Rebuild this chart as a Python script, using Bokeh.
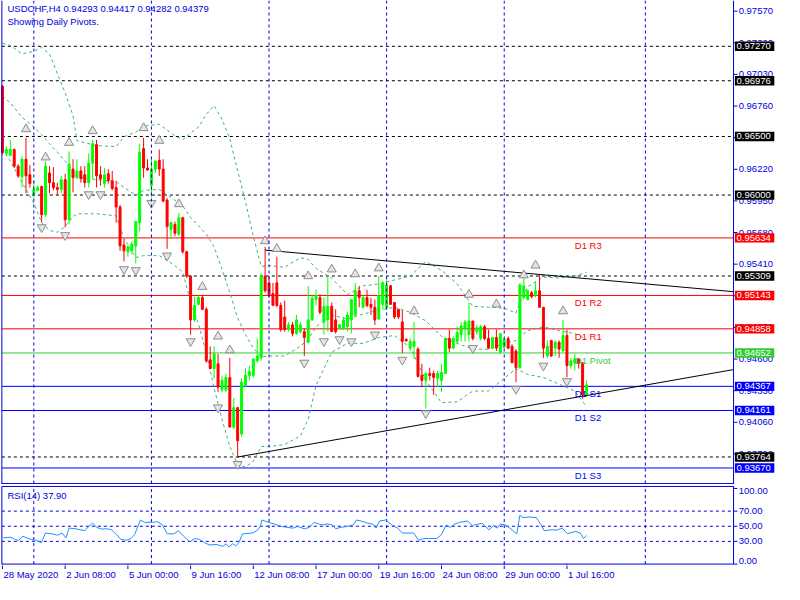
from bokeh.plotting import figure
from bokeh.models import Range1d, Span, ColumnDataSource
from bokeh.layouts import column
from bokeh.embed import file_html
from bokeh.resources import INLINE
from bokeh.core.properties import value

# ---------------- data ----------------
opens = [0.96929,0.96356,0.96339,0.96389,0.96247,0.96156,0.96306,0.96173,0.96006,0.96040,
0.96073,0.95832,0.96189,0.96106,0.96064,0.96048,0.96131,0.95790,0.96222,0.96148,
0.96206,0.96173,0.96106,0.96272,0.96430,0.96173,0.96098,0.96181,0.96123,0.96064,
0.95898,0.95574,0.95516,0.95524,0.95566,0.95765,0.96397,0.96231,0.96081,0.96222,
0.96297,0.96222,0.95957,0.95707,0.95749,0.95665,0.95807,0.95516,0.95308,0.94934,
0.95067,0.95125,0.95025,0.94593,0.94518,0.94560,0.94335,0.94335,0.94443,0.94019,
0.94185,0.93961,0.94377,0.94460,0.94460,0.94585,0.94610,0.95308,0.95250,0.95158,
0.95250,0.95058,0.94959,0.94851,0.94892,0.94817,0.94834,0.94834,0.94743,0.94934,
0.95108,0.95125,0.94917,0.94934,0.95050,0.94934,0.94859,0.94859,0.94876,0.94934,
0.94976,0.95183,0.95042,0.95125,0.95067,0.95042,0.94942,0.95067,0.95042,0.95225,
0.95083,0.95025,0.94917,0.94768,0.94693,0.94709,0.94685,0.94460,0.94418,0.94477,
0.94477,0.94435,0.94418,0.94477,0.94776,0.94693,0.94751,0.94809,0.94859,0.94809,
0.94925,0.94834,0.94776,0.94876,0.94776,0.94693,0.94784,0.94660,0.94701,0.94776,
0.94709,0.94668,0.94526,0.95125,0.95108,0.95167,0.95142,0.95183,0.95042,0.94626,
0.94759,0.94693,0.94743,0.94668,0.94801,0.94543,0.94568,0.94601,0.94568,0.94293]
highs = [0.96938,0.96414,0.96472,0.96397,0.96264,0.96331,0.96489,0.96256,0.96123,0.96081,
0.96081,0.96289,0.96247,0.96239,0.96106,0.96164,0.96181,0.96372,0.96306,0.96306,
0.96247,0.96247,0.96356,0.96472,0.96472,0.96247,0.96231,0.96222,0.96206,0.96123,
0.95915,0.95624,0.95566,0.95607,0.95774,0.96439,0.96489,0.96306,0.96306,0.96297,
0.96389,0.96306,0.95973,0.95774,0.95774,0.95848,0.95815,0.95524,0.95316,0.95133,
0.95142,0.95142,0.95042,0.94709,0.94709,0.94643,0.94460,0.94476,0.94610,0.94269,
0.94185,0.94435,0.94526,0.94543,0.94601,0.94776,0.95333,0.95557,0.95308,0.95250,
0.95474,0.95083,0.95100,0.94917,0.94917,0.94976,0.94917,0.94859,0.95225,0.95150,
0.95192,0.95150,0.95125,0.95308,0.95083,0.95025,0.94901,0.94959,0.95000,0.95108,
0.95250,0.95225,0.95150,0.95192,0.95125,0.95108,0.95308,0.95266,0.95275,0.95233,
0.95083,0.95025,0.95017,0.94776,0.94776,0.94917,0.94701,0.94560,0.94485,0.94526,
0.94501,0.94501,0.94560,0.94776,0.94851,0.94793,0.94876,0.94917,0.94934,0.95083,
0.94925,0.94892,0.94892,0.94892,0.94851,0.94784,0.94851,0.94817,0.94784,0.94793,
0.94726,0.94685,0.95250,0.95316,0.95192,0.95183,0.95266,0.95316,0.95042,0.94759,
0.94759,0.94759,0.94759,0.94934,0.94851,0.94610,0.94643,0.94610,0.94568,0.94417]
lows = [0.96347,0.96331,0.96331,0.96231,0.96148,0.96064,0.96015,0.96064,0.95981,0.96031,
0.95765,0.95815,0.96015,0.96040,0.95998,0.96015,0.95724,0.95749,0.96023,0.96139,
0.96106,0.96064,0.96064,0.96139,0.96064,0.96081,0.96064,0.96098,0.96040,0.95765,
0.95524,0.95433,0.95474,0.95499,0.95416,0.95690,0.96148,0.96206,0.95981,0.96189,
0.96164,0.95940,0.95541,0.95624,0.95649,0.95649,0.95499,0.95291,0.94809,0.94917,
0.95058,0.95017,0.94568,0.94518,0.94435,0.94319,0.94319,0.94319,0.94019,0.94003,
0.93764,0.93937,0.94360,0.94418,0.94443,0.94568,0.94585,0.95167,0.95125,0.95058,
0.95042,0.94834,0.94834,0.94834,0.94793,0.94809,0.94817,0.94626,0.94734,0.94925,
0.95058,0.94984,0.94809,0.94834,0.94834,0.94817,0.94851,0.94851,0.94834,0.94817,
0.94959,0.95042,0.95033,0.95042,0.94976,0.94892,0.94934,0.95025,0.95025,0.95067,
0.94942,0.94942,0.94652,0.94751,0.94668,0.94601,0.94443,0.94360,0.94177,0.94418,
0.94294,0.94360,0.94319,0.94477,0.94660,0.94685,0.94734,0.94751,0.94751,0.94751,
0.94759,0.94809,0.94759,0.94759,0.94685,0.94685,0.94668,0.94643,0.94693,0.94685,
0.94568,0.94402,0.94518,0.95108,0.95100,0.95117,0.95125,0.95042,0.94610,0.94610,
0.94618,0.94626,0.94610,0.94668,0.94443,0.94518,0.94501,0.94518,0.94261,0.94282]
closes = [0.96364,0.96389,0.96389,0.96247,0.96164,0.96306,0.96164,0.96098,0.96048,0.96064,
0.95832,0.96247,0.96106,0.96064,0.96048,0.96131,0.95790,0.96264,0.96148,0.96206,
0.96139,0.96106,0.96272,0.96439,0.96164,0.96139,0.96173,0.96123,0.96056,0.95898,
0.95566,0.95524,0.95558,0.95582,0.95774,0.96364,0.96231,0.96214,0.96222,0.96289,
0.96222,0.95948,0.95732,0.95765,0.95674,0.95807,0.95516,0.95308,0.94934,0.95058,
0.95125,0.95025,0.94585,0.94518,0.94643,0.94360,0.94418,0.94443,0.94019,0.94185,
0.93903,0.94402,0.94460,0.94493,0.94601,0.94626,0.95308,0.95183,0.95150,0.95058,
0.95058,0.94851,0.94851,0.94892,0.94817,0.94934,0.94892,0.94784,0.94934,0.95117,
0.95142,0.95000,0.95050,0.95050,0.94834,0.94834,0.94892,0.94934,0.94976,0.95108,
0.95183,0.95125,0.95125,0.95058,0.95042,0.94934,0.95142,0.95250,0.95233,0.95067,
0.94959,0.94959,0.94751,0.94755,0.94751,0.94751,0.94452,0.94418,0.94477,0.94460,
0.94443,0.94477,0.94485,0.94776,0.94693,0.94776,0.94826,0.94884,0.94917,0.94925,
0.94776,0.94868,0.94876,0.94776,0.94693,0.94784,0.94693,0.94817,0.94768,0.94693,
0.94568,0.94526,0.95233,0.95225,0.95183,0.95133,0.95183,0.95042,0.94693,0.94709,
0.94626,0.94743,0.94685,0.94801,0.94543,0.94585,0.94601,0.94560,0.94294,0.94379]

# Bollinger bands (read at sample bars)
bb_x = [0,2,5,8,10,12,14,16,18,19,24,29,31,34,36,40,44,46,48,50,52,54,56,58,60,62,64,66,68,72,
        76,78,80,84,88,92,96,100,104,108,112,116,120,124,128,131,132,134,138,142,146,149]
bb_upper = [0.97295,0.97278,0.97204,0.97228,0.97262,0.97204,0.97037,0.96871,0.96680,0.96464,
            0.96422,0.96414,0.96497,0.96538,0.96588,0.96605,0.96505,0.96472,0.96530,0.96580,
            0.96688,0.96763,0.96647,0.96480,0.96206,0.95940,0.95649,0.95391,0.95399,0.95383,
            0.95466,0.95449,0.95374,0.95291,0.95150,0.95225,0.95241,0.95275,0.95308,0.95433,
            0.95358,0.95241,0.95050,0.95042,0.95034,0.94992,0.95084,0.95217,0.95300,0.95291,
            0.95308,0.95341]
bb_middle = [0.96846,0.96788,0.96663,0.96580,0.96514,0.96439,0.96364,0.96289,0.96206,0.96156,
             0.96131,0.96114,0.96065,0.95998,0.96040,0.96048,0.95956,0.95907,0.95807,0.95740,
             0.95665,0.95557,0.95366,0.95167,0.94950,0.94809,0.94693,0.94618,0.94626,0.94626,
             0.94709,0.94768,0.94876,0.94975,0.94942,0.94984,0.95017,0.95042,0.95000,0.94926,
             0.94792,0.94734,0.94684,0.94684,0.94734,0.94759,0.94792,0.94842,0.94876,0.94842,
             0.94817,0.94768]
bb_lower = [0.96397,0.96289,0.96106,0.95932,0.95765,0.95699,0.95682,0.95732,0.95815,0.95840,
            0.95840,0.95823,0.95632,0.95466,0.95483,0.95483,0.95399,0.95341,0.95084,0.94901,
            0.94651,0.94352,0.94086,0.93853,0.93695,0.93678,0.93728,0.93853,0.93853,0.93870,
            0.93944,0.94086,0.94377,0.94659,0.94734,0.94734,0.94784,0.94801,0.94701,0.94418,
            0.94227,0.94235,0.94327,0.94327,0.94435,0.94518,0.94502,0.94468,0.94443,0.94385,
            0.94327,0.94194]

price_ticks = [0.97570, 0.97300, 0.97030, 0.96760, 0.96490, 0.96220, 0.95950, 0.95680,
               0.95410, 0.95140, 0.94870, 0.94600, 0.94330, 0.94060, 0.93790]
hlines = [0.97270, 0.96976, 0.96500, 0.96000, 0.95309, 0.93764]
pivot_names = ["D1 R3", "D1 R2", "D1 R1", "D1 Pivot", "D1 S1", "D1 S2", "D1 S3"]
pivot_levels = [0.95634, 0.95143, 0.94858, 0.94652, 0.94367, 0.94161, 0.93670]
pivot_colors = ["#FF0000", "#FF0000", "#FF0000", "#32CD32", "#0000FF", "#0000FF", "#0000FF"]

tri_upper_x = [67, 186.5]
tri_upper_y = [0.95530, 0.95175]
tri_lower_x = [60, 186.5]
tri_lower_y = [0.93764, 0.94510]

frac_up_x = [6, 11, 17, 23, 36, 40, 45, 51, 55, 58, 67, 70, 78, 84, 90, 96, 105, 119, 126, 133, 136, 143]
frac_up_y = [0.96563, 0.96322, 0.96447, 0.96547, 0.96572, 0.96464, 0.95923, 0.95217, 0.94793, 0.94676,
             0.95607, 0.95541, 0.95308, 0.95366, 0.95325, 0.95375, 0.95009, 0.95150, 0.95067, 0.95316,
             0.95399, 0.95009]
frac_dn_x = [10, 16, 22, 25, 31, 34, 38, 42, 48, 55, 60, 77, 82, 86, 89, 95, 102, 108, 120, 131, 138, 144]
frac_dn_y = [0.95724, 0.95657, 0.96006, 0.96006, 0.95366, 0.95358, 0.95932, 0.95483, 0.94751, 0.94186,
             0.93703, 0.94568, 0.94751, 0.94768, 0.94751, 0.94809, 0.94593, 0.94136, 0.94693, 0.94344,
             0.94543, 0.94410]

rsi_x = [0.2,2,3.3,4.1,5.2,6.2,7.4,8.7,9.9,11,12.8,14.1,15.2,16.2,17,18.7,21,22,23,24.1,25.3,26.6,27.8,
         29.1,30.2,31.6,32.8,33.7,35.2,36.2,38.3,39.5,40.8,42,43.7,44.9,46.2,47.8,49.1,50.3,51.6,52.8,
         54.5,56.2,57,57.8,58.7,59.5,60.3,61.2,63.7,64.9,65.8,66.2,67.8,69.5,71.2,72.8,74.1,75.3,77,78.3,
         79.5,80.8,82,82.8,84.1,85,86.2,87.8,89.5,90.3,92,93.2,94.5,95.3,96.2,97.8,99.3,100.8,102,103.7,
         104.9,106.2,107.4,108.7,110.8,112,113.2,114.1,115.3,116.6,118.7,119.9,121.2,122.4,124.1,125.3,
         126.2,127,128.2,129.5,131.2,132,132.8,134.5,136.2,137.4,138.2,140.3,141.2,142.8,144.1,146.2,
         147.4,148.2,149]
rsi_v = [34.6,35.5,32.5,31.2,36.8,34.6,32.5,31.2,28.2,41.0,39.8,38.1,41.0,34.6,47.5,46.7,44.1,49.7,53.9,
         48.4,46.2,46.7,45.4,39.0,32.5,31.6,33.8,39.0,58.3,55.2,55.2,56.1,51.8,40.2,39.8,44.1,36.8,29.4,
         33.8,32.5,28.2,25.2,26.0,23.4,26.9,22.6,26.9,24.1,28.2,39.8,41.0,44.1,49.7,58.3,55.2,52.7,49.7,
         48.4,47.5,49.7,46.7,48.4,55.2,52.7,51.8,53.1,51.8,46.7,48.4,49.7,51.8,58.3,56.1,54.0,52.7,47.5,
         57.0,58.3,51.8,47.5,41.0,41.0,41.0,31.2,33.8,33.8,33.8,39.0,51.8,48.4,52.7,55.2,56.9,50.9,52.7,
         53.9,45.4,50.9,47.5,52.7,51.8,47.5,39.8,64.7,61.3,62.2,61.3,51.8,44.1,45.4,44.6,47.5,40.2,43.2,
         41.0,33.8,37.9]
rsi_levels = [30, 50, 70]
rsi_ticks = [0, 30, 50, 70, 100]
rsi_tick_labels = ["0.00", "30.00", "50.00", "70.00", "100.00"]

time_idx = [0, 16, 32, 48, 64, 80, 96, 112, 128, 144]
time_labels = ["28 May 2020", "2 Jun 08:00", "5 Jun 00:00", "9 Jun 16:00", "12 Jun 08:00",
               "17 Jun 00:00", "19 Jun 16:00", "24 Jun 08:00", "29 Jun 00:00", "1 Jul 16:00"]
vgrid_idx = [8, 38, 68, 98, 128, 164]

title_text = "USDCHF,H4  0.94293 0.94417 0.94282 0.94379"
subtitle_text = "Showing Daily Pivots."
rsi_text = "RSI(14) 37.90"

# ---------------- styling / layout constants ----------------
BLUE = "#0000DD"
BAND = "#3CB371"
FONT = "Liberation Sans"
FS = "9.5px"
W = 784
XR = Range1d(-0.5, 199.5)     # bar-index scale across whole width
AX = 186.5                     # position of the price axis line (bar units)
LEFT = -0.15                   # left pane border
P_LO, P_HI = 0.93529, 0.97661  # visible price window
P_BOT = 0.93537                # bottom border of price pane
TAG_H = 0.00040

def pane(height, yr):
    f = figure(width=W, height=height, x_range=XR, y_range=yr, output_backend="svg",
               toolbar_location=None, x_axis_type=None, y_axis_type=None,
               min_border_left=0, min_border_right=0, min_border_top=0, min_border_bottom=0,
               background_fill_color="white", border_fill_color="white")
    f.outline_line_color = None
    f.xgrid.visible = False
    f.ygrid.visible = False
    return f

def txt(f, xs, ys, texts, color, align="left", baseline="middle", x_offset=0, y_offset=0):
    f.text(x=xs, y=ys, text=texts, text_color=color, text_align=align, text_baseline=baseline,
           x_offset=x_offset, y_offset=y_offset, text_font=value(FONT), text_font_size=value(FS))

# ---------------- main price pane ----------------
p = pane(484, Range1d(P_LO, P_HI))

for g in vgrid_idx:
    p.add_layout(Span(location=g, dimension="height", line_color=BLUE, line_dash="3 3", line_width=1))
n_h = len(hlines)
p.segment(x0=[LEFT] * n_h, y0=hlines, x1=[AX] * n_h, y1=hlines,
          line_color="black", line_dash="3 3", line_width=1)
n_p = len(pivot_levels)
p.segment(x0=[LEFT] * n_p, y0=pivot_levels, x1=[AX] * n_p, y1=pivot_levels,
          line_color=pivot_colors, line_width=1)

for band in (bb_upper, bb_middle, bb_lower):
    p.line(bb_x, band, line_color=BAND, line_dash="3 3", line_width=1)

idx = list(range(len(opens)))
colors = ["#00FF00" if c >= o else "#FF0000" for o, c in zip(opens, closes)]
src = ColumnDataSource(dict(x=idx, h=highs, l=lows,
                            top=[max(o, c) for o, c in zip(opens, closes)],
                            bot=[min(o, c) for o, c in zip(opens, closes)],
                            color=colors))
p.segment(x0="x", y0="l", x1="x", y1="h", line_color="color", line_width=1, source=src)
p.vbar(x="x", width=0.5, top="top", bottom="bot", fill_color="color", line_color="color", source=src)

p.line(tri_upper_x, tri_upper_y, line_color="black", line_width=1)
p.line(tri_lower_x, tri_lower_y, line_color="black", line_width=1)

p.scatter(frac_up_x, frac_up_y, marker="triangle", size=9, fill_color="#E4E4E4", line_color="#8C8C8C")
p.scatter(frac_dn_x, frac_dn_y, marker="inverted_triangle", size=9, fill_color="#E4E4E4", line_color="#8C8C8C")

txt(p, [146] * n_p, pivot_levels, pivot_names, pivot_colors, baseline="top", y_offset=2)

# borders and right price axis (drawn inside the frame)
p.add_layout(Span(location=LEFT, dimension="height", line_color=BLUE, line_width=1))
p.add_layout(Span(location=AX, dimension="height", line_color=BLUE, line_width=1))
p.segment(x0=[LEFT], y0=[P_BOT], x1=[AX], y1=[P_BOT], line_color=BLUE, line_width=1)
n_t = len(price_ticks)
p.segment(x0=[AX] * n_t, y0=price_ticks, x1=[AX + 1.0] * n_t, y1=price_ticks, line_color=BLUE, line_width=1)
txt(p, [AX + 1.3] * n_t, price_ticks, ["%.5f" % t for t in price_ticks], BLUE)

tag_levels = hlines + pivot_levels
tag_colors = ["#000000"] * n_h + pivot_colors
n_g = len(tag_levels)
p.quad(left=[AX + 0.35] * n_g, right=[AX + 10.4] * n_g,
       bottom=[v - TAG_H for v in tag_levels], top=[v + TAG_H for v in tag_levels],
       fill_color=tag_colors, line_color=None)
txt(p, [AX + 0.75] * n_g, tag_levels, ["%.5f" % v for v in tag_levels], "white")

txt(p, [XR.start], [P_HI], [title_text], BLUE, baseline="top", x_offset=7, y_offset=2)
txt(p, [XR.start], [P_HI], [subtitle_text], BLUE, baseline="top", x_offset=7, y_offset=15)

# ---------------- RSI pane ----------------
R_LO, R_HI, R_TOP = -1.9, 105.2, 102.6
r = pane(81, Range1d(R_LO, R_HI))
n_v = len(vgrid_idx)
r.segment(x0=vgrid_idx, y0=[0] * n_v, x1=vgrid_idx, y1=[R_TOP] * n_v,
          line_color=BLUE, line_dash="3 3", line_width=1)
n_l = len(rsi_levels)
r.segment(x0=[LEFT] * n_l, y0=rsi_levels, x1=[AX] * n_l, y1=rsi_levels,
          line_color=BLUE, line_dash="3 3", line_width=1)
r.line(rsi_x, rsi_v, line_color="#1E90FF", line_width=1)
# pane frame
r.segment(x0=[LEFT, LEFT, LEFT, AX], y0=[0, R_TOP, 0, 0], x1=[AX, AX, LEFT, AX], y1=[0, R_TOP, R_TOP, R_TOP],
          line_color=BLUE, line_width=1)
n_r = len(rsi_ticks)
r.segment(x0=[AX] * n_r, y0=rsi_ticks, x1=[AX + 1.0] * n_r, y1=rsi_ticks, line_color=BLUE, line_width=1)
rsi_baselines = ["bottom", "middle", "middle", "middle", "top"]
for t, lab, bl in zip(rsi_ticks, rsi_tick_labels, rsi_baselines):
    txt(r, [AX + 1.3], [t], [lab], BLUE, baseline=bl)
# time tick marks start at the pane's bottom edge
r.segment(x0=time_idx, y0=[0] * len(time_idx), x1=time_idx, y1=[R_LO] * len(time_idx),
          line_color=BLUE, line_width=1)
txt(r, [XR.start], [R_TOP], [rsi_text], BLUE, baseline="top", x_offset=7, y_offset=4)

# ---------------- time axis strip ----------------
s = pane(19, Range1d(0, 19))
s.segment(x0=time_idx, y0=[19] * len(time_idx), x1=time_idx, y1=[15.5] * len(time_idx),
          line_color=BLUE, line_width=1)
txt(s, time_idx, [10.5] * len(time_idx), time_labels, BLUE, x_offset=1)

layout = column(p, r, s)
open("out.html", "w").write(file_html(layout, INLINE))
